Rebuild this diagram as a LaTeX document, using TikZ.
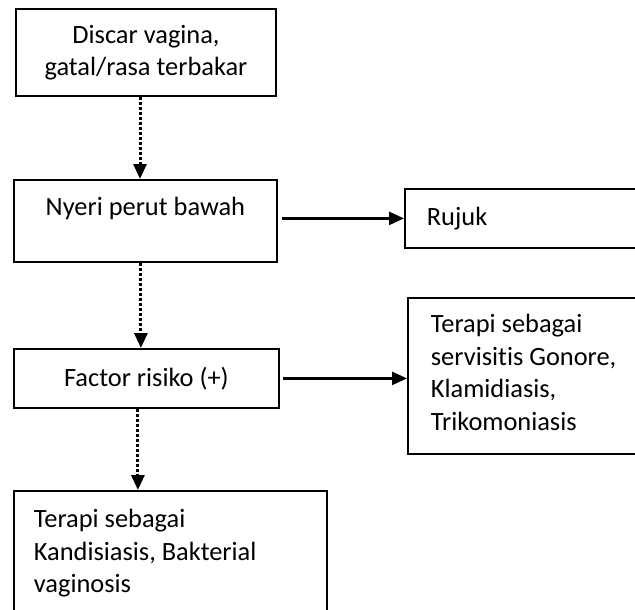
\documentclass[tikz,border=0pt]{standalone}
\usepackage{fontspec}
\setmainfont{Carlito}[Ligatures=NoCommon]
\usepackage{tikz}
\usetikzlibrary{arrows.meta,positioning,calc}

\begin{document}
\begin{tikzpicture}[
  x=1pt,y=-1pt,
  font=\fontsize{26.4}{32.5}\selectfont,
  box/.style={draw,line width=1.8pt,rectangle,inner sep=0pt},
  topbox/.style={box,anchor=north west,align=flush left},
  arrow/.style={-{Triangle[length=15pt,width=13pt]},line width=2.5pt},
  dotarrow/.style={arrow,line width=3pt,dash pattern=on 3pt off 2pt}
]
\useasboundingbox (0,0) rectangle (635,610);
\clip (0,0) rectangle (635,610);
\node[box,align=center,minimum width=260pt,minimum height=87pt] (disc) at (146,52.5) {Discar vagina,\\gatal/rasa terbakar};
\node[box,anchor=north west,minimum width=263pt,text height=36pt,text depth=46pt] (nyeri) at (13,179) {Nyeri perut bawah};
\node[box,anchor=north west,minimum width=265pt,minimum height=59pt] (faktor) at (13,348) {Factor risiko (+)};
\node[topbox,text width=273pt,inner xsep=20pt,text height=37pt,text depth=163pt] (kandi) at (13,490) {Terapi sebagai\\Kandisiasis, Bakterial\\vaginosis};
\node[topbox,text width=256pt,inner xsep=22pt,minimum height=59pt] (rujuk) at (404,188) {Rujuk};
\node[topbox,text width=254pt,inner xsep=23pt,text height=35pt,text depth=121pt] (terapi) at (407,297) {Terapi sebagai\\servisitis Gonore,\\Klamidiasis,\\Trikomoniasis};
\draw[dotarrow] ([xshift=-6pt]disc.south) -- ([xshift=-6pt]disc.south |- nyeri.north);
\draw[dotarrow] ([xshift=-4.5pt]nyeri.south) -- ([xshift=-4.5pt]nyeri.south |- faktor.north);
\draw[dotarrow] ([xshift=-8.5pt]faktor.south) -- ([xshift=-8.5pt]faktor.south |- kandi.north);
\draw[arrow] ([xshift=4pt]nyeri.east |- rujuk.west) -- (rujuk.west);
\draw[arrow] ([xshift=3pt]faktor.east) -- (faktor.east -| terapi.west);
\end{tikzpicture}
\end{document}
